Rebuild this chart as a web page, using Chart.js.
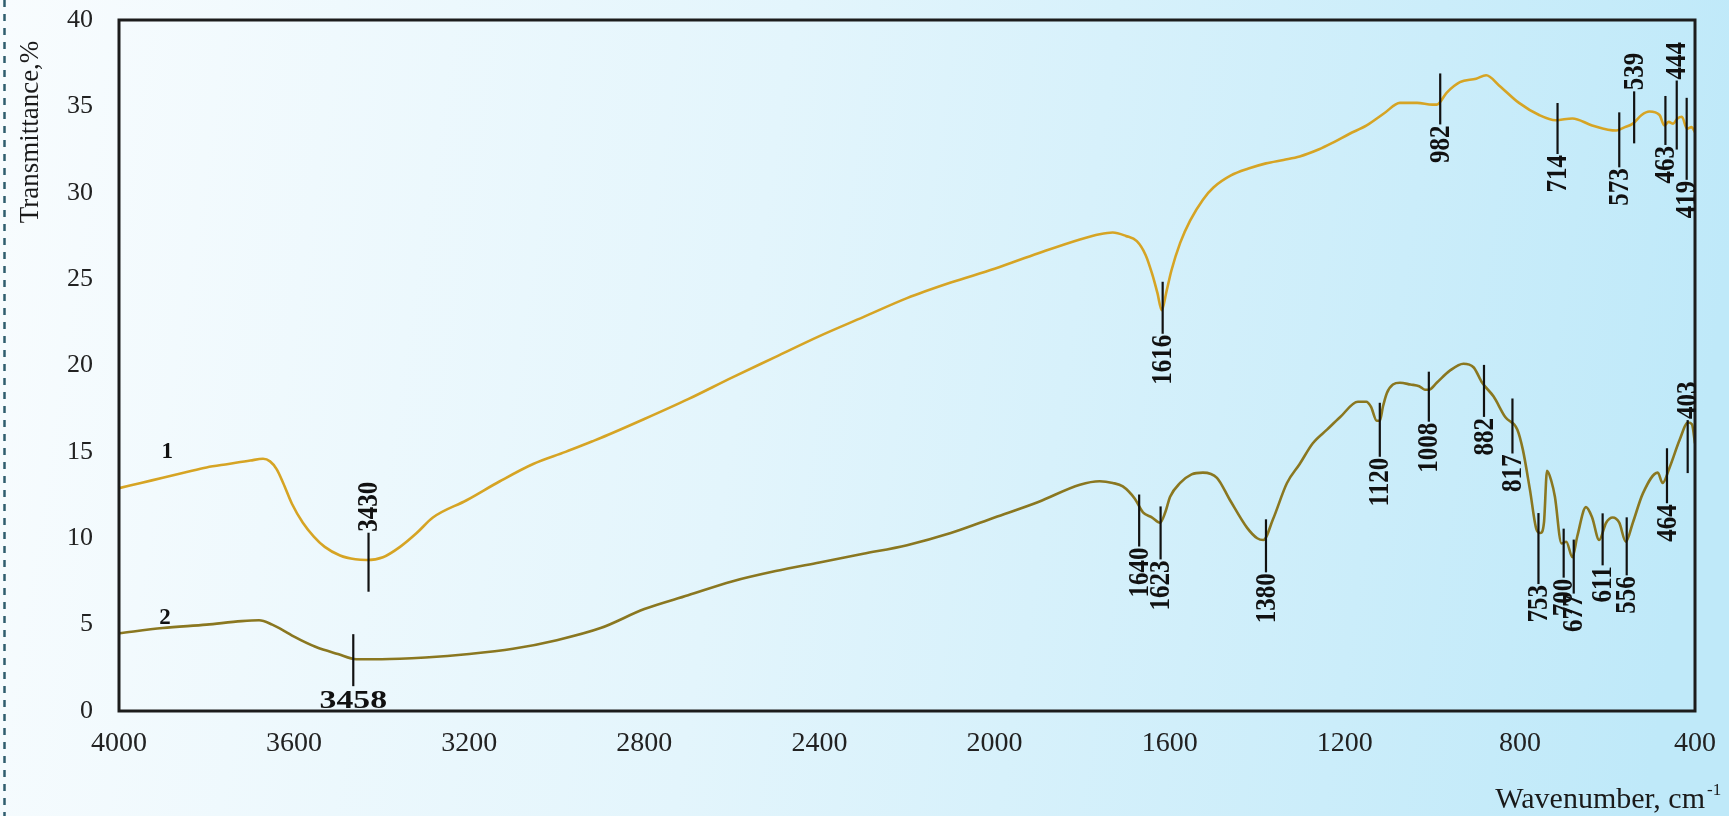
<!DOCTYPE html>
<html>
<head>
<meta charset="utf-8">
<script src="https://cdn.jsdelivr.net/npm/chart.js@4.4.1/dist/chart.umd.min.js"></script>
<style>
html,body{margin:0;padding:0;overflow:hidden;background:#eef9fd;}
</style>
</head>
<body>
<canvas id="myChart" width="1729" height="816"></canvas>
<script>
// spectrum 1 (gold)
var wn1 = [4000,3950,3900,3850,3800,3750,3700,3671,3655,3640,3625,3605,3580,3555,3530,3495,3460,3434,3397,3358,3320,3283,3206,3130,3054,2980,2920,2900,2800,2700,2600,2500,2400,2300,2200,2100,2000,1900,1805,1760,1730,1700,1675,1655,1640,1628,1618,1608,1596,1576,1553,1524,1500,1460,1420,1380,1340,1303,1260,1227,1190,1150,1110,1074,1035,1000,990,967,937,900,877,847,802,756,718,680,635,580,560,542,522,504,481,470,460,450,440,430,418,408,400];
var tr1 = [12.9,13.2,13.5,13.8,14.1,14.3,14.5,14.6,14.45,14.0,13.2,12.0,10.9,10.1,9.5,9.0,8.78,8.74,8.9,9.5,10.3,11.2,12.2,13.3,14.3,15.0,15.6,15.8,16.9,18.05,19.3,20.5,21.7,22.8,23.9,24.8,25.6,26.5,27.3,27.6,27.7,27.5,27.2,26.4,25.3,24.2,23.2,24.2,25.5,27.1,28.4,29.6,30.3,31.0,31.4,31.7,31.9,32.1,32.5,32.9,33.4,33.9,34.6,35.2,35.2,35.1,35.1,35.8,36.4,36.6,36.8,36.2,35.2,34.5,34.2,34.3,33.9,33.6,33.8,34.0,34.5,34.7,34.5,33.9,34.1,34.0,34.3,34.4,33.7,33.8,33.5];

// spectrum 2 (olive)
var wn2 = [4000,3900,3800,3720,3680,3650,3620,3600,3550,3500,3458,3400,3300,3200,3100,3000,2900,2800,2700,2600,2500,2400,2300,2200,2100,2000,1900,1805,1760,1730,1707,1680,1661,1640,1622,1610,1599,1576,1550,1524,1492,1462,1423,1400,1386,1364,1332,1303,1273,1240,1211,1170,1151,1140,1127,1120,1113,1104,1090,1074,1050,1030,1017,1008,990,960,929,906,886,860,833,806,793,777,762,753,745,738,728,720,705,694,680,669,649,635,619,603,588,573,558,542,519,485,474,458,435,416,407,400];
var tr2 = [4.5,4.8,5.0,5.2,5.25,5.0,4.6,4.3,3.7,3.3,3.0,3.0,3.1,3.3,3.6,4.1,4.8,5.9,6.7,7.5,8.1,8.6,9.1,9.6,10.3,11.2,12.1,13.1,13.3,13.2,13.0,12.3,11.5,11.2,10.9,11.5,12.4,13.2,13.7,13.8,13.5,12.2,10.6,10.0,9.9,11.1,13.2,14.3,15.5,16.3,17.0,17.9,17.9,17.6,16.8,16.8,17.6,18.4,18.9,19.0,18.9,18.8,18.6,18.6,19.0,19.7,20.1,19.9,19.0,18.2,17.0,16.3,15.1,12.8,10.5,10.3,10.9,13.9,13.3,12.4,9.7,9.8,8.9,10.1,11.8,11.2,9.9,10.9,11.2,10.9,9.8,10.9,12.6,13.8,13.2,14.1,15.7,16.7,16.6,15.5];

var xTicks = [4000,3600,3200,2800,2400,2000,1600,1200,800,400];
var yTicks = [0,5,10,15,20,25,30,35,40];

// labelled bands
var peaks1 = [3430,1616,982,714,573,539,463,444,419];
var peaks2 = [3458,1640,1623,1380,1120,1008,882,817,753,700,677,611,556,464,403];

// how each band label is drawn: side, px above curve, px below curve, px shift
var look1 = [["up",27,32,0],["down",25,27,0],["down",27,24,0],["down",17,34,0],["down",17,38,0],["up",31,21,0],["down",27,22,-2],["up",40,29,1],["down",30,52,0]];
var look2 = [["flat",25,27,-3],["down",23,29,-13],["down",16,37,1],["down",15,38,0],["down",18,36,0],["down",18,32,0],["down",20,32,0],["down",26,29,0],["down",20,51,-2],["down",14,35,0],["down",12,42,0],["down",18,34,0],["down",22,36,0],["down",25,30,0],["up",15,38,-6]];

var gold = "#d6a424";
var olive = "#8a7720";
var serif = "'Liberation Serif', 'Times New Roman', serif";

function pts(xs, ys){
  var out = [];
  for (var i=0;i<xs.length;i++) out.push({x:xs[i], y:ys[i]});
  return out;
}
function valueAt(xs, ys, w){
  for (var i=0;i<xs.length-1;i++){
    if (w<=xs[i] && w>=xs[i+1]){
      var f = (xs[i]-w)/(xs[i]-xs[i+1]);
      return ys[i]+(ys[i+1]-ys[i])*f;
    }
  }
  return ys[ys.length-1];
}

var backdrop = {
  id: "backdrop",
  beforeDraw: function(chart){
    var c = chart.ctx;
    c.save();
    var g = c.createLinearGradient(0,0,chart.width,260);
    g.addColorStop(0,"#f8fcfe");
    g.addColorStop(0.45,"#e3f5fc");
    g.addColorStop(1,"#bfe9f9");
    c.fillStyle = g;
    c.fillRect(0,0,chart.width,chart.height);
    c.strokeStyle = "#2f5d6e";
    c.lineWidth = 2.5;
    c.setLineDash([7,7]);
    c.beginPath();
    c.moveTo(4.5,0);
    c.lineTo(4.5,chart.height);
    c.stroke();
    c.restore();
  }
};

function drawPeaks(chart, xs, ys, peaks, looks){
  var c = chart.ctx;
  var sx = chart.scales.x, sy = chart.scales.y;
  for (var i=0;i<peaks.length;i++){
    var w = peaks[i];
    var lk = looks[i];
    var px = sx.getPixelForValue(w) + lk[3];
    var py = sy.getPixelForValue(valueAt(xs, ys, w));
    var top = py - lk[1], bot = py + lk[2];
    c.strokeStyle = "#111";
    c.lineWidth = 2.2;
    c.beginPath();
    c.moveTo(px, top);
    c.lineTo(px, bot);
    c.stroke();
    c.fillStyle = "#111";
    c.font = "bold 25px " + serif;
    c.save();
    if (lk[0]=="flat"){
      c.translate(px, bot+3);
      c.scale(1.35, 1);
      c.textAlign = "center";
      c.textBaseline = "top";
      c.fillText(String(w), 0, 0);
    } else {
      c.translate(px, lk[0]=="up" ? top-1 : bot+1);
      c.rotate(-Math.PI/2);
      c.scale(1, 1.15);
      c.textAlign = lk[0]=="up" ? "left" : "right";
      c.textBaseline = "middle";
      c.fillText(String(w), 0, 1);
    }
    c.restore();
  }
}

var notes = {
  id: "notes",
  afterDatasetsDraw: function(chart){
    var c = chart.ctx;
    var a = chart.chartArea;
    c.save();
    // frame
    c.strokeStyle = "#1c1c1c";
    c.lineWidth = 3;
    c.strokeRect(a.left, a.top, a.right-a.left, a.bottom-a.top);

    drawPeaks(chart, wn1, tr1, peaks1, look1);
    drawPeaks(chart, wn2, tr2, peaks2, look2);

    // curve numbers
    var sx = chart.scales.x, sy = chart.scales.y;
    c.fillStyle = "#111";
    c.font = "bold 23px " + serif;
    c.textAlign = "center";
    c.textBaseline = "middle";
    c.fillText("1", sx.getPixelForValue(3890), sy.getPixelForValue(valueAt(wn1,tr1,3890)) - 25);
    c.fillText("2", sx.getPixelForValue(3895), sy.getPixelForValue(valueAt(wn2,tr2,3895)) - 10);

    // axis titles
    c.fillStyle = "#1a1a1a";
    c.font = "30px " + serif;
    c.textAlign = "right";
    c.textBaseline = "alphabetic";
    c.fillText("Wavenumber, cm", 1705, 808);
    c.font = "17px " + serif;
    c.textAlign = "left";
    c.fillText("-1", 1707, 795);

    c.translate(31, 132);
    c.rotate(-Math.PI/2);
    c.font = "27px " + serif;
    c.textAlign = "center";
    c.textBaseline = "middle";
    c.fillText("Transmittance,%", 0, 0);
    c.restore();
  }
};

new Chart("myChart", {
  type: "line",
  data: {
    datasets: [{
      label: "1",
      data: pts(wn1, tr1),
      borderColor: gold,
      borderWidth: 2.6,
      pointRadius: 0,
      cubicInterpolationMode: "monotone"
    },{
      label: "2",
      data: pts(wn2, tr2),
      borderColor: olive,
      borderWidth: 2.6,
      pointRadius: 0,
      cubicInterpolationMode: "monotone"
    }]
  },
  options: {
    responsive: false,
    animation: false,
    layout: { padding: { left: 0, top: 20, right: 34, bottom: 0 } },
    plugins: {
      legend: { display: false },
      tooltip: { enabled: false }
    },
    scales: {
      x: {
        type: "linear",
        reverse: true,
        min: 400,
        max: 4000,
        afterFit: function(s){ s.height = 105; },
        afterBuildTicks: function(s){ s.ticks = xTicks.map(function(v){ return {value:v}; }); },
        grid: { display: false },
        border: { display: false },
        ticks: {
          color: "#222", padding: 8, maxRotation: 0,
          font: { family: serif, size: 28 },
          callback: function(v){ return String(v); }
        }
      },
      y: {
        min: 0,
        max: 40,
        afterFit: function(s){ s.width = 119; },
        afterBuildTicks: function(s){ s.ticks = yTicks.map(function(v){ return {value:v}; }); },
        grid: { display: false, tickLength: 24 },
        border: { display: false },
        ticks: {
          color: "#222", padding: 2,
          font: { family: serif, size: 26 },
          callback: function(v){ return String(v); }
        }
      }
    }
  },
  plugins: [backdrop, notes]
});
</script>
</body>
</html>
